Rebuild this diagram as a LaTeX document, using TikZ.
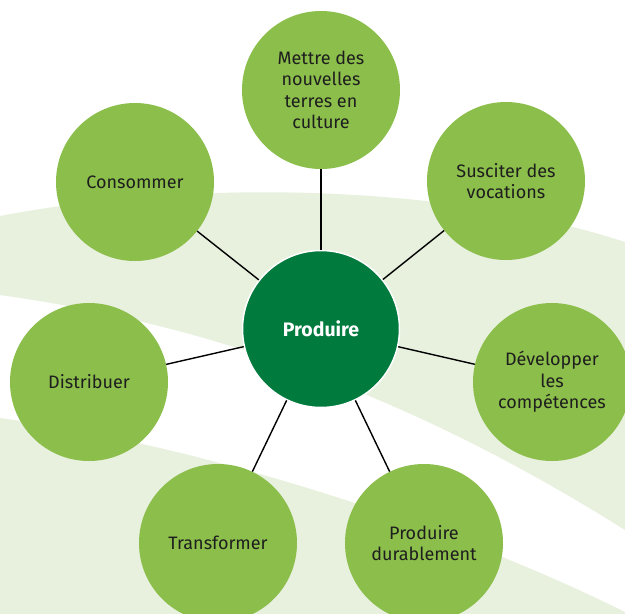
\documentclass[tikz,border=0pt]{standalone}
\usepackage{fontspec}
\setmainfont{Fira Sans}
\definecolor{bandgreen}{RGB}{232,240,222}
\definecolor{leafgreen}{RGB}{139,190,74}
\definecolor{hubgreen}{RGB}{0,122,61}
\definecolor{textgray}{RGB}{30,30,30}
\begin{document}
\begin{tikzpicture}[x=1pt,y=-1pt,
  leaf/.style={circle, fill=leafgreen, minimum size=158pt, inner sep=0pt, align=center,
    text=textgray, font=\fontsize{18}{21.5}\selectfont},
  hub/.style={circle, fill=hubgreen, draw=white, line width=1.5pt, minimum size=157pt,
    inner sep=0pt, text=white, font=\bfseries\fontsize{19.5}{23}\selectfont},
  link/.style={line width=1.4pt, black},
  band/.style={fill=bandgreen}]
\useasboundingbox (0,0) rectangle (625,614);
\begin{scope}
  \clip (0,0) rectangle (625,614);
  \fill[band] (0,216) .. controls (200,178) and (450,185) .. (625,242)
    -- (625,530) .. controls (450,420) and (250,330) .. (0,295) -- cycle;
  \fill[band] (0,418) .. controls (200,445) and (450,525) .. (625,612)
    -- (625,614) -- (0,614) -- cycle;
\end{scope}
\node[hub] (hub) at (321,329) {Produire};
\node[leaf] (mettre) at (321,90) {Mettre des\\nouvelles\\terres en\\culture};
\node[leaf] (susciter) at (506,181) {Susciter des\\vocations};
\node[leaf] (develop) at (552,382) {Développer\\les\\compétences};
\node[leaf] (durable) at (424,543) {Produire\\durablement};
\node[leaf] (transf) at (218,543) {Transformer};
\node[leaf] (distrib) at (89,382) {Distribuer};
\node[leaf] (consom) at (135,182) {Consommer};
\foreach \n in {mettre,susciter,develop,durable,transf,distrib,consom}
  \draw[link] (hub) -- (\n);
\end{tikzpicture}
\end{document}
